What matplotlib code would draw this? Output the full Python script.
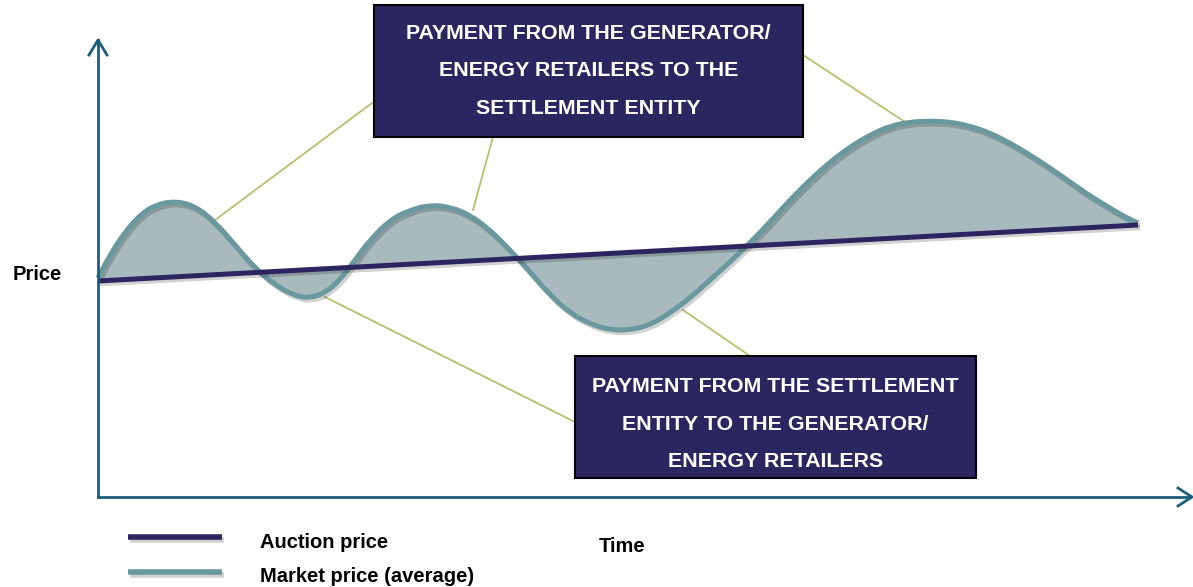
import matplotlib.pyplot as plt
import matplotlib.patheffects as pe
from matplotlib.path import Path
from matplotlib.patches import PathPatch
import numpy as np

plt.rcParams['font.family'] = ['Liberation Sans', 'DejaVu Sans']

# market price curve (canvas units, y grows downward)
time_pts = [98, 110, 125, 140, 155, 175, 195, 215, 235, 255, 275, 295, 310,
            325, 340, 355, 370, 390, 410, 430, 450, 470, 490, 510, 530, 550,
            570, 590, 610, 630, 650, 670, 690, 710, 730, 750, 770, 790, 810,
            830, 850, 870, 890, 910, 930, 950, 970, 990, 1010, 1030, 1050,
            1070, 1090, 1110, 1125, 1138]
market_price = [278, 255, 232, 215, 205, 201, 206, 222, 245, 268, 285, 296,
                298, 293, 280, 260, 240, 220, 210, 205, 207, 215, 230, 250,
                272, 295, 313, 324, 330, 330, 325, 313, 298, 280, 262, 243,
                222, 200, 180, 162, 147, 135, 126, 122, 121, 122, 126, 133,
                143, 155, 168, 182, 196, 208, 217, 223]
auction_start = 281
auction_end = 225

top_label = 'PAYMENT FROM THE GENERATOR/\nENERGY RETAILERS TO THE\nSETTLEMENT ENTITY'
bottom_label = 'PAYMENT FROM THE SETTLEMENT\nENTITY TO THE GENERATOR/\nENERGY RETAILERS'

navy = '#2c2660'
teal = '#6a989f'
fill_c = '#a8babe'
axis_c = '#1b5f7c'
olive = '#b9bf6c'


def smooth_path(pts):
    # quadratic bezier through midpoints, so the curve looks drawn not stitched
    verts = [pts[0], (pts[0] + pts[1]) / 2]
    codes = [Path.MOVETO, Path.LINETO]
    for i in range(1, len(pts) - 1):
        verts += [pts[i], (pts[i] + pts[i + 1]) / 2]
        codes += [Path.CURVE3, Path.CURVE3]
    verts.append(pts[-1])
    codes.append(Path.LINETO)
    return verts, codes


fig = plt.figure(figsize=(11.93, 5.87), dpi=100)
ax = fig.add_axes([0, 0, 1, 1])
ax.set_xlim(0, 1193)
ax.set_ylim(587, 0)
ax.axis('off')

pts = np.column_stack([time_pts, market_price]).astype(float)
verts, codes = smooth_path(pts)

shadow = [pe.SimpleLineShadow(offset=(1.5, -2), alpha=0.18, shadow_color='k'), pe.Normal()]

# callout leader lines
ax.plot([372, 215], [103, 220], color=olive, lw=1.3, zorder=1)
ax.plot([493, 473], [137, 210], color=olive, lw=1.3, zorder=1)
ax.plot([803, 905], [55, 122], color=olive, lw=1.3, zorder=1)
ax.plot([325, 577], [297, 423], color=olive, lw=1.3, zorder=1)
ax.plot([683, 750], [310, 356], color=olive, lw=1.3, zorder=1)

# area between market price and auction price
fill_verts = verts + [(time_pts[-1], auction_end), (time_pts[0], auction_start)]
fill_codes = codes + [Path.LINETO, Path.LINETO]
ax.add_patch(PathPatch(Path(fill_verts, fill_codes), facecolor=fill_c,
                       edgecolor='none', zorder=2))

ax.add_patch(PathPatch(Path(verts, codes), facecolor='none', edgecolor=teal,
                       lw=3.6, capstyle='butt', joinstyle='round', zorder=3,
                       path_effects=shadow))
ax.plot([time_pts[0], time_pts[-1]], [auction_start, auction_end], color=navy, lw=3.6,
        solid_capstyle='butt', zorder=4, path_effects=shadow)

# axes with open arrow heads
ax.plot([98, 98], [497, 40], color=axis_c, lw=2, zorder=5)
ax.plot([98, 1190], [497, 497], color=axis_c, lw=2, zorder=5)
ax.plot([89, 98, 107], [55, 40, 55], color=axis_c, lw=2, zorder=5)
ax.plot([1178, 1192, 1178], [488, 497, 506], color=axis_c, lw=2, zorder=5)

# callout boxes
for (x0, y0, x1, y1), txt, ty in [((374, 5, 803, 137), top_label, 71),
                                  ((575, 356, 976, 478), bottom_label, 424)]:
    ax.add_patch(plt.Rectangle((x0, y0), x1 - x0, y1 - y0, facecolor=navy,
                               edgecolor='black', lw=1.5, zorder=6))
    ax.text((x0 + x1) / 2, ty, txt, color='white', fontsize=15.4,
            fontweight='bold', ha='center', va='center', linespacing=2.25, zorder=7)

ax.text(37, 274, 'Price', fontsize=14.5, fontweight='bold', ha='center', va='center')
ax.text(622, 547, 'Time', fontsize=14.5, fontweight='bold', ha='center', va='center')

# legend
ax.plot([128, 222], [537, 537], color=navy, lw=4, solid_capstyle='butt', path_effects=shadow)
ax.plot([128, 222], [572, 572], color=teal, lw=4, solid_capstyle='butt', path_effects=shadow)
ax.text(260, 543, 'Auction price', fontsize=14.5, fontweight='bold', va='center')
ax.text(260, 576, 'Market price (average)', fontsize=14.5, fontweight='bold', va='center')

fig.savefig('out.png', dpi=100)
